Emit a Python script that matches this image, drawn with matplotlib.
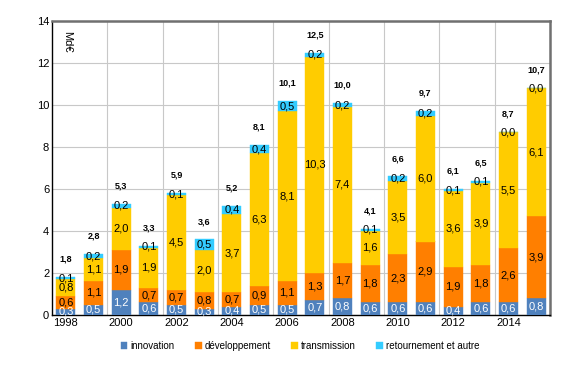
import matplotlib
matplotlib.use("Agg")
import matplotlib.pyplot as plt
import numpy as np

plt.rcParams['font.family'] = ['Liberation Sans', 'DejaVu Sans']

years = list(range(1998, 2016))
innovation = [0.3, 0.5, 1.2, 0.6, 0.5, 0.3, 0.4, 0.5, 0.5, 0.7, 0.8, 0.6, 0.6, 0.6, 0.4, 0.6, 0.6, 0.8]
developpement = [0.6, 1.1, 1.9, 0.7, 0.7, 0.8, 0.7, 0.9, 1.1, 1.3, 1.7, 1.8, 2.3, 2.9, 1.9, 1.8, 2.6, 3.9]
transmission = [0.8, 1.1, 2.0, 1.9, 4.5, 2.0, 3.7, 6.3, 8.1, 10.3, 7.4, 1.6, 3.5, 6.0, 3.6, 3.9, 5.5, 6.1]
retournement = [0.1, 0.2, 0.2, 0.1, 0.1, 0.5, 0.4, 0.4, 0.5, 0.2, 0.2, 0.1, 0.2, 0.2, 0.1, 0.1, 0.0, 0.0]
totals = [1.8, 2.8, 5.3, 3.3, 5.9, 3.6, 5.2, 8.1, 10.1, 12.5, 10.0, 4.1, 6.6, 9.7, 6.1, 6.5, 8.7, 10.7]

series_names = ["innovation", "développement", "transmission", "retournement et autre"]
colors = ["#4F81BD", "#FF7F00", "#FFCC00", "#33CCFF"]
text_colors = ["white", "black", "black", "black"]

fig = plt.figure(figsize=(5.77, 3.70), dpi=100)
ax = fig.add_axes([52/577, 1 - 315/370, (550-52)/577, (315-21)/370])

x = np.arange(len(years))
width = 0.68
bottom = np.zeros(len(years))
series = [innovation, developpement, transmission, retournement]
handles = []
for vals, col, tc, name in zip(series, colors, text_colors, series_names):
    v = np.array(vals)
    b = ax.bar(x, v, width, bottom=bottom, color=col, edgecolor=col, linewidth=0.3,
               label=name, zorder=3)
    handles.append(b)
    for xi, bi, vi in zip(x, bottom, v):
        ax.text(xi, bi + vi / 2, f"{vi:.1f}".replace('.', ','), ha='center', va='center',
                fontsize=8, color=tc, zorder=4)
    bottom = bottom + v

for xi, top, t in zip(x, bottom, totals):
    ax.text(xi, top + 0.85, f"{t:.1f}".replace('.', ','), ha='center', va='center',
            fontsize=6.5, fontweight='bold', color='black', zorder=4)

ax.set_xlim(-0.5, len(years) - 0.5)
ax.set_ylim(0, 14)
ax.set_yticks(np.arange(0, 15, 2))
ax.set_yticklabels([str(v) for v in range(0, 15, 2)], fontsize=8)
ax.set_xticks(x[::2])
ax.set_xticklabels([str(y) for y in years[::2]], fontsize=8)
ax.tick_params(axis='both', length=0, pad=2)

ax.yaxis.grid(True, color='#C8C8C8', linewidth=0.8, zorder=0)
for bnd in np.arange(1.5, len(years) - 1, 2):
    ax.axvline(bnd, color='#C8C8C8', linewidth=0.8, zorder=0)

ax.spines['left'].set_color('black')
ax.spines['bottom'].set_color('black')
ax.spines['left'].set_linewidth(1.0)
ax.spines['bottom'].set_linewidth(1.0)
ax.spines['top'].set_color('#707070')
ax.spines['right'].set_color('#707070')
ax.spines['top'].set_linewidth(1.8)
ax.spines['right'].set_linewidth(1.8)

ax.text(0.03, 0.965, "Md€", transform=ax.transAxes, rotation=270, ha='center', va='top',
        fontsize=8)

fig.legend(handles=handles, labels=series_names, loc='center', bbox_to_anchor=(300/577, 1 - 346/370),
           ncol=4, frameon=False, fontsize=7, handlelength=0.7, handleheight=0.7,
           columnspacing=2.1, handletextpad=0.3)

fig.savefig("out.png", dpi=100)
